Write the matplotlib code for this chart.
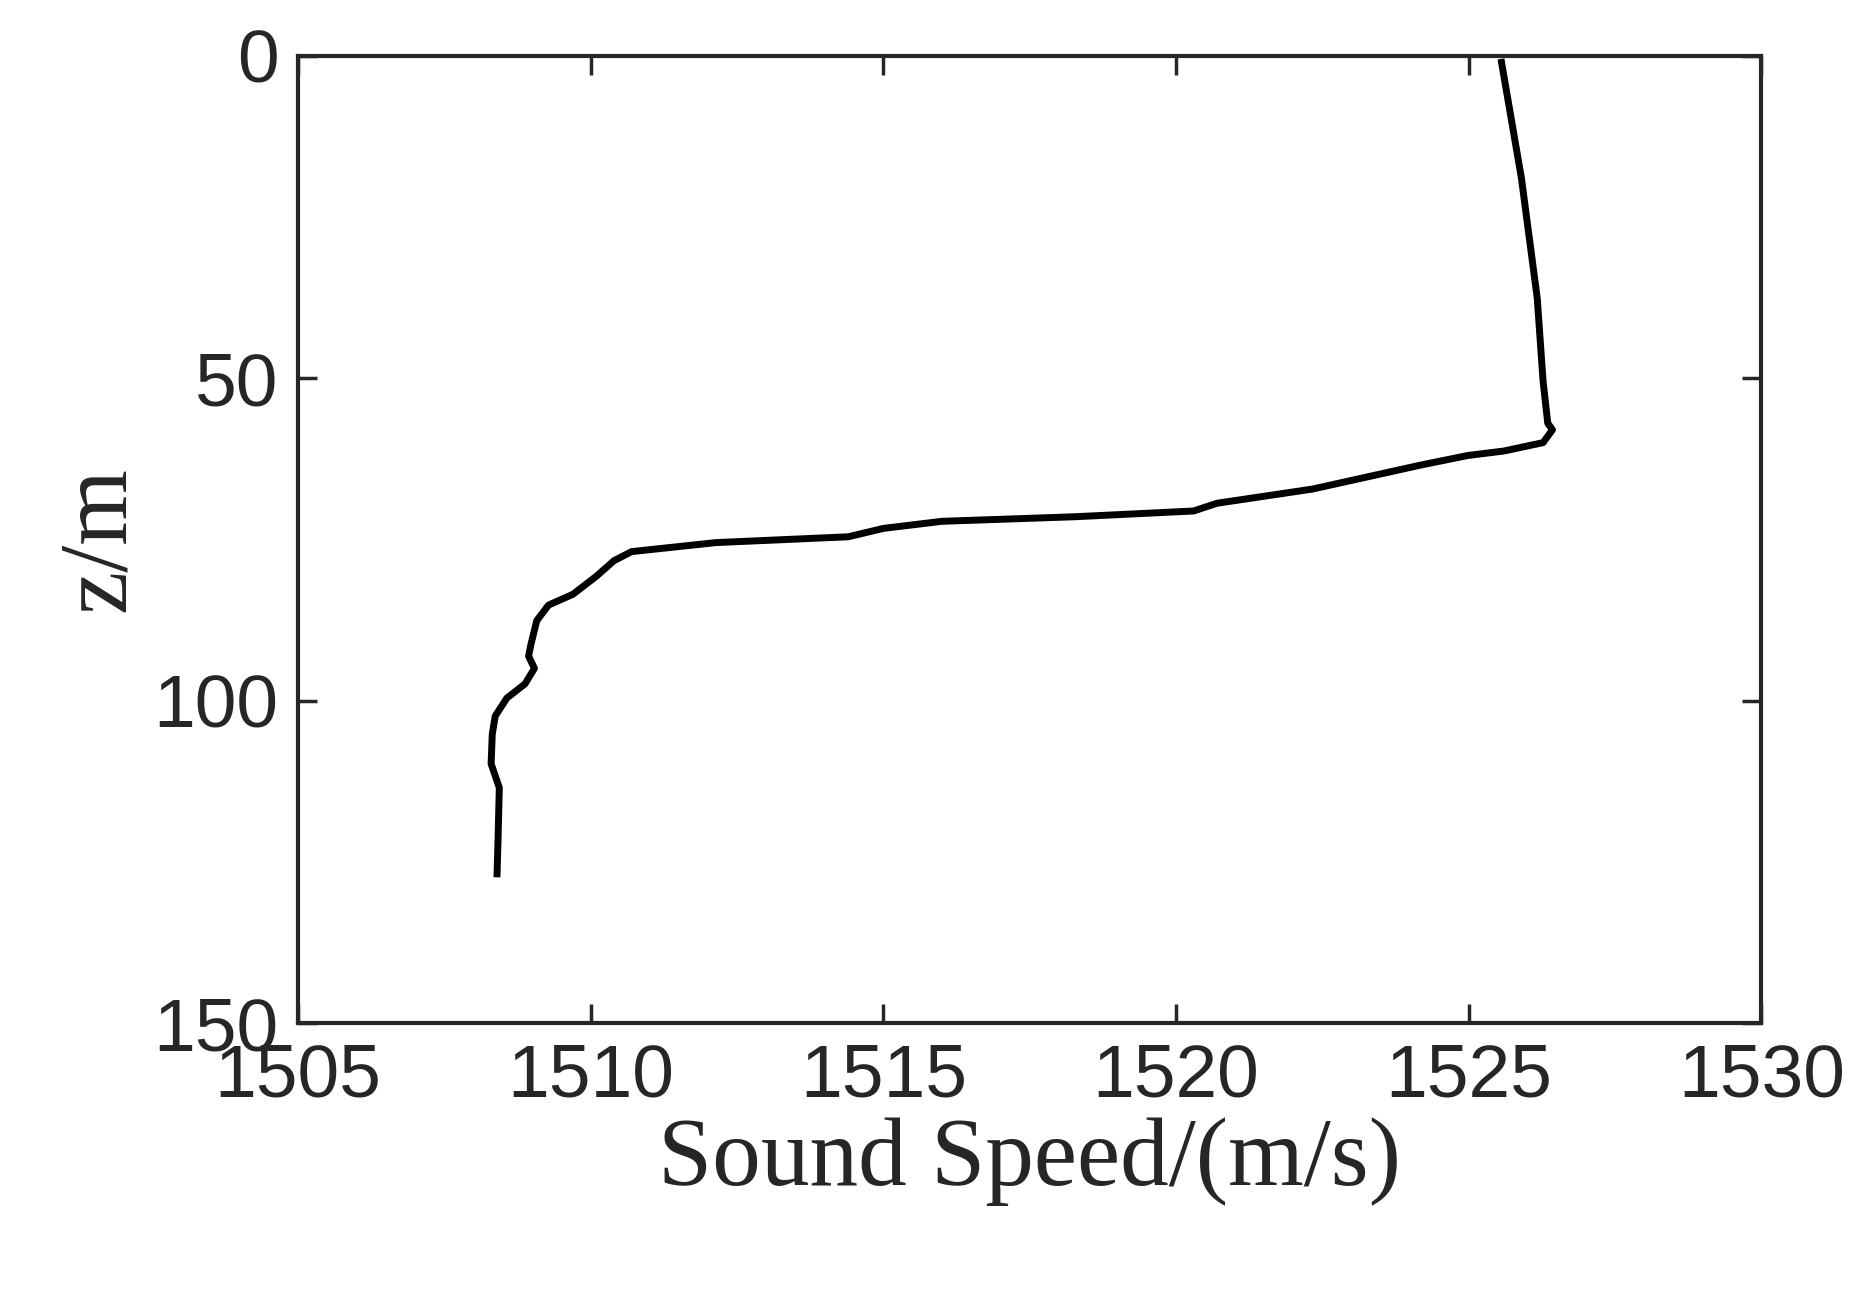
import matplotlib
matplotlib.use("Agg")
import matplotlib.pyplot as plt

# sound speed profile
speed = [1525.55, 1525.9, 1526.17, 1526.27, 1526.35, 1526.43, 1526.27, 1525.6,
         1524.98, 1524.17, 1522.33, 1520.7, 1520.3, 1518.25, 1516.0, 1515.0,
         1514.4, 1512.14, 1510.7, 1510.4, 1510.1, 1509.7, 1509.28, 1509.08,
         1508.98, 1508.94, 1509.04, 1508.88, 1508.57, 1508.37, 1508.32, 1508.3,
         1508.44, 1508.42, 1508.4]
depth = [0.5, 19, 37.6, 50.5, 57, 58, 60, 61.3,
         62, 63.5, 67.2, 69.4, 70.6, 71.5, 72.2, 73.3,
         74.6, 75.5, 76.9, 78.3, 80.7, 83.5, 85.2, 87.6,
         91.3, 93.1, 95, 97.4, 99.6, 102.4, 105.2, 109.8,
         113.5, 121, 127.4]

fig = plt.figure(figsize=(18.62, 12.95), dpi=100)
ax = fig.add_axes([0.160, 0.210, 0.786, 0.747])
ax.plot(speed, depth, color="black", lw=5, solid_joinstyle="round", solid_capstyle="butt")
ax.set_xlim(1505, 1530)
ax.set_ylim(150, 0)
ax.set_xticks([1505, 1510, 1515, 1520, 1525, 1530])
ax.set_yticks([0, 50, 100, 150])
ax.tick_params(labelsize=54, width=2.5, length=14, direction="in", pad=14,
               top=True, right=True, colors="#262626", labelcolor="#262626")
for lab in ax.get_xticklabels() + ax.get_yticklabels():
    lab.set_family("Liberation Sans")
for s in ax.spines.values():
    s.set_linewidth(3)
    s.set_color("#262626")
ax.set_xlabel("Sound Speed/(m/s)", family="Liberation Serif", fontsize=70,
              color="#262626", labelpad=4)
ax.set_ylabel("z/m", family="Liberation Serif", fontsize=70,
              color="#262626", labelpad=6)
fig.savefig("out.png")
